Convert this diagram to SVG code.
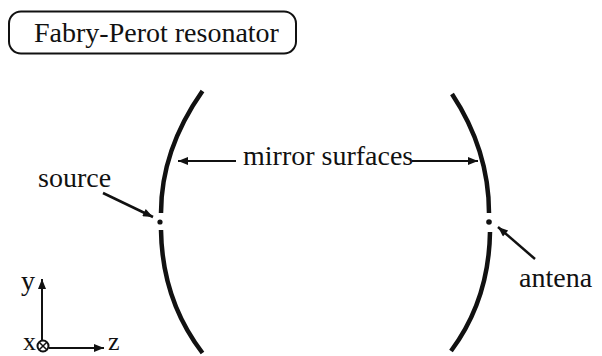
<svg xmlns="http://www.w3.org/2000/svg" width="602" height="356" viewBox="0 0 602 356">
<style>
text{font-family:"Liberation Serif","Times New Roman",serif;fill:#111}
.l{font-size:28px}
.s{font-size:26px}
.m{fill:none;stroke:#111;stroke-width:4.5}
.a{fill:none;stroke:#111;stroke-width:2}
.b{stroke-width:2.5}
</style>
<defs>
<marker id="h" viewBox="0 0 10 8" refX="10" refY="4" markerWidth="12" markerHeight="8" markerUnits="userSpaceOnUse" orient="auto-start-reverse"><path d="M0 0L10 4L0 8Z" fill="#111"/></marker>
</defs>
<rect width="602" height="356" fill="#fff"/>
<g id="title"><rect x="9" y="11.500" width="287" height="42" rx="12" fill="none" stroke="#111" stroke-width="2"/><text class="l" x="34" y="42">Fabry-Perot resonator</text></g>
<g id="mirror-left"><path class="m" d="M202.500 91Q161 150 161 213"/><path class="m" d="M161 230Q162 300 202.500 353"/></g>
<g id="mirror-right"><path class="m" d="M452 94Q489 150 489 213"/><path class="m" d="M490 232Q489 300 451 351"/></g>
<g id="source"><circle cx="160" cy="222" r="2.600" fill="#111"/><text class="l" x="38" y="187">source</text></g>
<g id="antenna"><circle cx="489" cy="222" r="2.800" fill="#111"/><text class="l" x="519" y="287">antena</text></g>
<g id="label"><text class="l" x="243" y="165">mirror surfaces</text></g>
<g id="axes"><circle cx="43" cy="346" r="5.500" fill="none" stroke="#111" stroke-width="2"/><path d="M39.200 342.200L46.800 349.800M46.800 342.200L39.200 349.800" stroke="#111" stroke-width="1.500"/><text class="l" x="21" y="290">y</text><text class="s" x="23" y="350">x</text><text class="s" x="108" y="350">z</text></g>
<g id="connectors">
<path class="a" d="M236 161H178" marker-end="url(#h)"/>
<path class="a" d="M412 161H478" marker-end="url(#h)"/>
<path class="a b" d="M103 193L153 217" marker-end="url(#h)"/>
<path class="a b" d="M535 259L498 227" marker-end="url(#h)"/>
<path class="a" d="M42 341V279" marker-end="url(#h)"/>
<path class="a" d="M49 348H104" marker-end="url(#h)"/>
</g>
</svg>
